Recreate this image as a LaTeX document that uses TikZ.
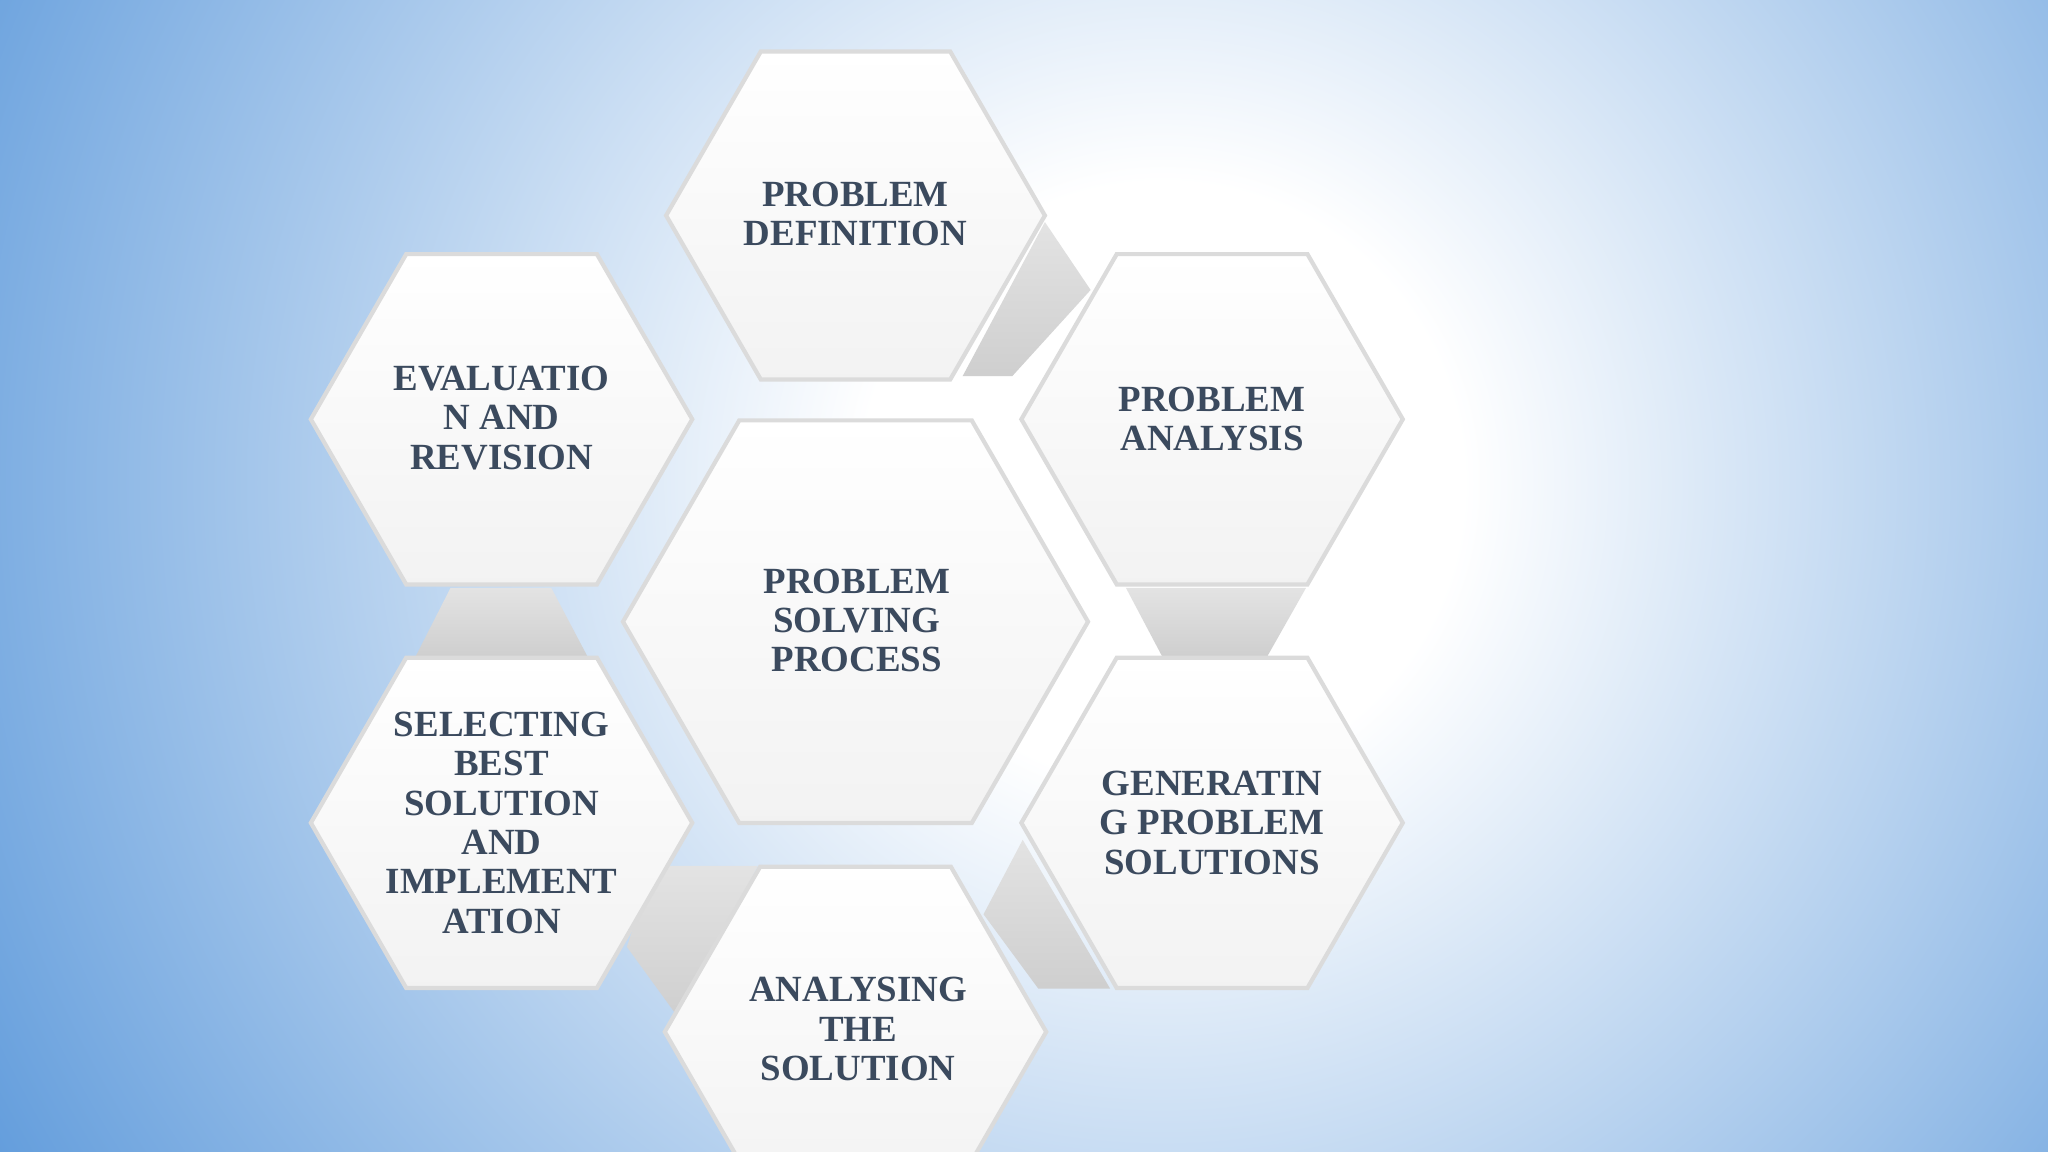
\documentclass[tikz,border=0pt]{standalone}
\usepackage{fontspec}
\setmainfont{Liberation Serif}
\definecolor{txt}{HTML}{3B4A5E}
\definecolor{bgblue}{HTML}{5E9ADB}
\pgfdeclareradialshading{bgsh}{\pgfpoint{0bp}{0bp}}{color(0bp)=(white); color(5bp)=(white); color(23bp)=(bgblue); color(50bp)=(bgblue)}
\begin{document}
\begin{tikzpicture}[x=0.013061cm,y=-0.013061cm,
  hexa/.style={draw=gray!28, line width=1.2pt},
  lbl/.style={font=\bfseries\fontsize{10.5}{11.2}\selectfont, text=txt, align=center},
  conn/.style={draw=none, top color=gray!22, bottom color=gray!38}]
\useasboundingbox (0,0) rectangle (1568,882);
\begin{scope}
\clip (0,0) rectangle (1568,882);
\fill[bgblue] (0,0) rectangle (1568,882);
\shade[shading=bgsh] (890,370) circle (1150);
\end{scope}
% connectors
\path[conn] (800,170) -- (835,222) -- (775,288) -- (737,288) -- cycle;
\path[conn] (862,450) -- (1000,450) -- (970,503) -- (890,503) -- cycle;
\path[conn] (783,643) -- (850,757) -- (795,757) -- (753,700) -- cycle;
\path[conn] (500,663) -- (580,663) -- (520,780) -- (480,725) -- cycle;
\path[conn] (345,450) -- (422,450) -- (450,503) -- (318,503) -- cycle;
% hexagons
\foreach \cx/\cy/\r in {655/165/145, 928/321/146, 928/630/146, 655/790/146, 384/630/146, 384/321/146, 655/476/178} {
  \path[hexa, top color=white, bottom color=gray!10]
    (\cx+\r,\cy) -- (\cx+\r/2,\cy-0.866*\r) -- (\cx-\r/2,\cy-0.866*\r) -- (\cx-\r,\cy)
    -- (\cx-\r/2,\cy+0.866*\r) -- (\cx+\r/2,\cy+0.866*\r) -- cycle;
}
\node[lbl] (def) at (655,164) {PROBLEM\\DEFINITION};
\node[lbl] (ana) at (928,321) {PROBLEM\\ANALYSIS};
\node[lbl] (gen) at (928,630) {GENERATIN\\G PROBLEM\\SOLUTIONS};
\node[lbl] (asol) at (657,788) {ANALYSING\\THE\\SOLUTION};
\node[lbl] (sel) at (384,630) {SELECTING\\BEST\\SOLUTION\\AND\\IMPLEMENT\\ATION};
\node[lbl] (eva) at (384,320) {EVALUATIO\\N AND\\REVISION};
\node[lbl] (ctr) at (656,475) {PROBLEM\\SOLVING\\PROCESS};
\end{tikzpicture}
\end{document}
